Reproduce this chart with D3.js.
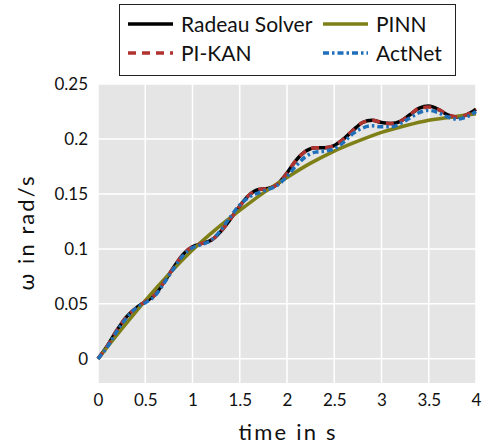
<!DOCTYPE html>
<html>
<head>
<meta charset="utf-8">
<script src="https://cdn.jsdelivr.net/npm/d3@7"></script>
<style>
  body { margin: 0; background: #fff; }
  svg { display: block; font-family: Lato, "DejaVu Sans", sans-serif; }
</style>
</head>
<body>
<script>
// time samples (s)
const time = [0.0, 0.1, 0.2, 0.3, 0.4, 0.5, 0.6, 0.7, 0.8, 0.9,
  1.0, 1.1, 1.2, 1.3, 1.4, 1.5, 1.6, 1.7, 1.8, 1.9,
  2.0, 2.1, 2.2, 2.3, 2.4, 2.5, 2.6, 2.7, 2.8, 2.9,
  3.0, 3.1, 3.2, 3.3, 3.4, 3.5, 3.6, 3.7, 3.8, 3.9, 4.0];

const radeau = [0.000, 0.012, 0.026, 0.038, 0.046, 0.052, 0.058, 0.070, 0.083, 0.095,
  0.102, 0.105, 0.108, 0.116, 0.127, 0.139, 0.149, 0.154, 0.155, 0.159,
  0.169, 0.181, 0.189, 0.192, 0.192, 0.194, 0.200, 0.208, 0.215, 0.217,
  0.215, 0.214, 0.216, 0.222, 0.228, 0.230, 0.227, 0.222, 0.220, 0.222, 0.227];

const piKan = [0.000, 0.012, 0.026, 0.038, 0.046, 0.052, 0.058, 0.070, 0.083, 0.095,
  0.102, 0.105, 0.108, 0.116, 0.127, 0.139, 0.149, 0.154, 0.155, 0.159,
  0.169, 0.181, 0.189, 0.192, 0.192, 0.194, 0.200, 0.208, 0.215, 0.217,
  0.215, 0.214, 0.216, 0.222, 0.228, 0.229, 0.227, 0.222, 0.220, 0.222, 0.227];

const actNet = [0.000, 0.011, 0.025, 0.037, 0.046, 0.051, 0.057, 0.069, 0.082, 0.094,
  0.101, 0.104, 0.108, 0.117, 0.129, 0.140, 0.147, 0.151, 0.154, 0.158,
  0.166, 0.176, 0.184, 0.188, 0.189, 0.191, 0.197, 0.205, 0.210, 0.212,
  0.211, 0.211, 0.214, 0.219, 0.224, 0.226, 0.224, 0.220, 0.218, 0.220, 0.225];

const pinnTime = [0, 0.25, 0.5, 0.75, 1.0, 1.25, 1.5, 1.75, 2.0, 2.25, 2.5, 2.75, 3.0, 3.25, 3.5, 3.75, 4.0];
const pinn = [0.000, 0.027, 0.053, 0.077, 0.099, 0.118, 0.135, 0.151, 0.165, 0.178, 0.189, 0.198, 0.206, 0.212, 0.217, 0.220, 0.223];

const xTicks = [0, 0.5, 1, 1.5, 2, 2.5, 3, 3.5, 4];
const yTicks = [0, 0.05, 0.1, 0.15, 0.2, 0.25];

const width = 482, height = 444;
const svg = d3.select('body').append('svg')
  .attr('width', width)
  .attr('height', height);

const x = d3.scaleLinear().domain([0, 4]).range([98, 476]);
const y = d3.scaleLinear().domain([-0.022, 0.25]).range([383, 84]);

// plot background
svg.append('rect')
  .attr('x', x(0)).attr('y', y(0.25))
  .attr('width', x(4) - x(0)).attr('height', y(-0.022) - y(0.25))
  .attr('fill', '#e5e5e5');

// grid
svg.append('g').selectAll('line').data(xTicks).join('line')
  .attr('x1', d => x(d)).attr('x2', d => x(d))
  .attr('y1', y(0.25)).attr('y2', y(-0.022))
  .attr('stroke', '#fff').attr('stroke-width', 1.5);
svg.append('g').selectAll('line').data(yTicks).join('line')
  .attr('x1', x(0)).attr('x2', x(4))
  .attr('y1', d => y(d)).attr('y2', d => y(d))
  .attr('stroke', '#fff').attr('stroke-width', 1.5);

// axes, labels only
const fmt = d => String(+d.toFixed(2));
const xAxis = svg.append('g').attr('transform', `translate(0,${y(-0.022)})`)
  .call(d3.axisBottom(x).tickValues(xTicks).tickFormat(fmt).tickSize(0).tickPadding(11));
const yAxis = svg.append('g').attr('transform', `translate(${x(0)},0)`)
  .call(d3.axisLeft(y).tickValues(yTicks).tickFormat(fmt).tickSize(0).tickPadding(10));
[xAxis, yAxis].forEach(a => {
  a.select('.domain').remove();
  a.selectAll('text').attr('font-size', 17).attr('fill', '#111').style('font-family', 'Lato, sans-serif');
});

svg.append('text')
  .attr('x', 287).attr('y', 440)
  .attr('text-anchor', 'middle').attr('font-size', 22).attr('fill', '#111')
  .attr('textLength', 97).attr('lengthAdjust', 'spacing')
  .text('time in s');
svg.append('text')
  .attr('transform', `translate(34,${(y(0.25) + y(-0.022)) / 2}) rotate(-90)`)
  .attr('text-anchor', 'middle').attr('font-size', 22).attr('fill', '#111')
  .attr('textLength', 114).attr('lengthAdjust', 'spacing')
  .text('ω in rad/s');

// series
const series = [
  { name: 'Radeau Solver', t: time, v: radeau, color: '#000000', dash: null },
  { name: 'PINN', t: pinnTime, v: pinn, color: '#7f7f17', dash: null },
  { name: 'PI-KAN', t: time, v: piKan, color: '#b0332f', dash: '8,6' },
  { name: 'ActNet', t: time, v: actNet, color: '#1f6fba', dash: '6,3,2.5,3' }
];

const line = d3.line()
  .x(d => x(d[0])).y(d => y(d[1]))
  .curve(d3.curveMonotoneX);

svg.append('g').selectAll('path').data(series).join('path')
  .attr('d', s => line(s.t.map((t, i) => [t, s.v[i]])))
  .attr('fill', 'none')
  .attr('stroke', s => s.color)
  .attr('stroke-width', 3.5)
  .attr('stroke-dasharray', s => s.dash);

// legend
const legend = svg.append('g');
legend.append('rect')
  .attr('x', 119.5).attr('y', 4.5).attr('width', 336).attr('height', 71)
  .attr('fill', '#fff').attr('stroke', '#222').attr('stroke-width', 1);

const legendPos = [[128, 24], [323, 24], [128, 53], [323, 53]];
const items = legend.selectAll('g.item').data(series).join('g')
  .attr('class', 'item')
  .attr('transform', (s, i) => `translate(${legendPos[i][0]},${legendPos[i][1]})`);
items.append('line')
  .attr('x1', 0).attr('x2', 45).attr('y1', 0).attr('y2', 0)
  .attr('stroke', s => s.color).attr('stroke-width', 3.5)
  .attr('stroke-dasharray', s => s.dash);
items.append('text')
  .attr('x', 53).attr('y', 7.5)
  .attr('font-size', 21).attr('fill', '#111')
  .text(s => s.name);
</script>
</body>
</html>
